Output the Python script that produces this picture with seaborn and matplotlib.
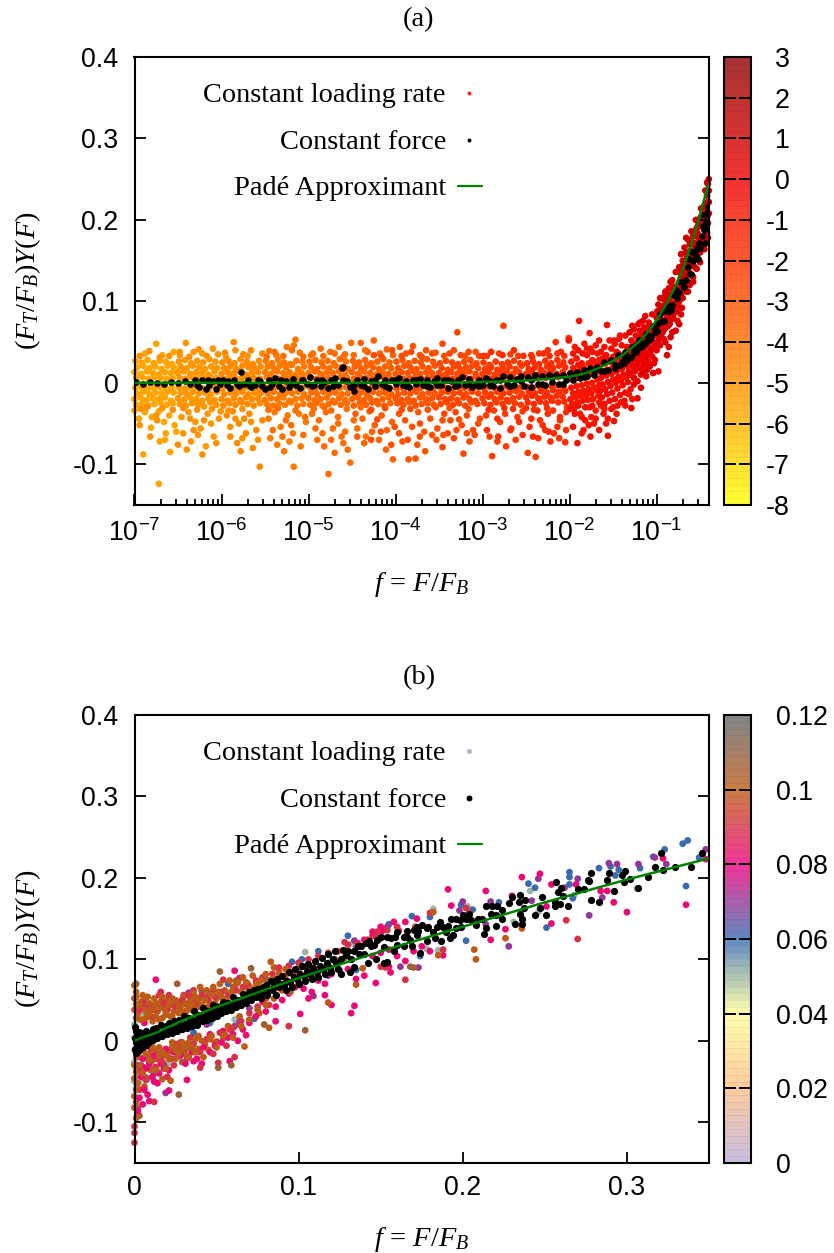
import numpy as np
import matplotlib
matplotlib.use("Agg")
import matplotlib.pyplot as plt
from matplotlib.cm import ScalarMappable
from matplotlib.colors import LinearSegmentedColormap, Normalize
from matplotlib.ticker import LogLocator, NullFormatter
import seaborn as sns

# ---------- Pade curve (f, y) ----------
curve_f = [1e-7,1e-5,1e-4,5e-4,1e-3,2e-3,3e-3,5e-3,7e-3,0.01,0.015,0.02,0.03,0.04,0.05,0.065,0.08,0.1,0.13,0.16,0.2,0.25,0.3,0.35,0.4]
curve_y = [0,0,0.0001,0.0004,0.001,0.0018,0.0027,0.0044,0.0058,0.0075,0.0115,0.0165,0.0255,0.0335,0.0415,0.052,0.063,0.077,0.097,0.116,0.14,0.17,0.198,0.224,0.245]

# ---------- panel (a): [log10(f)*100, y*1000] pairs, one list per colour level ----------
a_z = [-5.6,-5.2,-4.8,-4.3,-3.9,-3.5,-3.1,-2.7,-2.3,-1.8,-0.9,-0.4,0.1,0.6,1.0,-5.0,-3.9,-2.9,-1.9,-0.7,0.3,0.7,1.0]
a_01 = [-699,27,-692,25,-685,28,-678,24,-671,27,-664,26,-657,23,-697,19,-690,21,-683,18,-676,20,-669,17,-662,21,-655,19,-700,13,-693,11,-686,14,-679,12,-672,10,-665,13,-658,12,-651,14,-698,6,-691,7,-684,5,-677,7,-670,6,-663,5,-656,6,-699,-6,-692,-5,-685,-7,-678,-6,-671,-5,-664,-7,-657,-6,-697,-13,-690,-11,-683,-14,-676,-12,-669,-13,-662,-11,-655,-12,-700,-20,-693,-18,-686,-21,-679,-19,-672,-20,-665,-18,-658,-22,-698,-27,-691,-25,-684,-28,-677,-26,-670,-24,-663,-27,-656,-25,-675,48,-688,36,-668,34,-655,38,-700,-34,-695,-44,-688,-36,-680,-42,-672,-35,-666,-48,-681,-55,-690,-88,-672,-124,-660,-40,-654,-52,-664,-62,-671,-72,-659,-85,-665,-70,-652,-60]
a_02 = [-649,26,-642,28,-635,24,-628,27,-621,25,-614,29,-607,26,-647,20,-640,18,-633,21,-626,19,-619,17,-612,20,-605,18,-650,12,-643,14,-636,11,-629,13,-622,12,-615,10,-608,14,-648,6,-641,5,-634,7,-627,6,-620,5,-613,7,-606,6,-649,-5,-642,-7,-635,-6,-628,-5,-621,-7,-614,-6,-607,-5,-647,-12,-640,-14,-633,-11,-626,-13,-619,-12,-612,-14,-605,-11,-650,-19,-643,-21,-636,-18,-629,-20,-622,-22,-615,-19,-608,-21,-648,-26,-641,-28,-634,-25,-627,-27,-620,-29,-613,-24,-606,-27,-641,49,-632,38,-622,36,-610,42,-648,34,-646,-42,-638,-36,-630,-48,-624,-56,-616,-38,-609,-66,-644,-62,-635,-72,-627,-64,-618,-78,-612,-50,-603,-44,-640,-82]
a_03 = [-599,25,-592,27,-585,24,-578,29,-571,26,-564,23,-557,27,-597,18,-590,20,-583,17,-576,21,-569,19,-562,18,-555,20,-600,11,-593,13,-586,12,-579,14,-572,10,-565,12,-558,13,-598,5,-591,7,-584,6,-577,5,-570,7,-563,6,-556,5,-599,-7,-592,-5,-585,-6,-578,-7,-571,-5,-564,-6,-557,-7,-597,-14,-590,-12,-583,-13,-576,-11,-569,-14,-562,-12,-555,-13,-600,-20,-593,-22,-586,-19,-579,-21,-572,-18,-565,-20,-558,-19,-598,-28,-591,-25,-584,-27,-577,-24,-570,-26,-563,-28,-556,-25,-586,50,-596,37,-575,35,-566,40,-553,36,-594,-40,-587,-35,-580,-50,-574,-44,-568,-38,-560,-58,-590,-66,-582,-74,-572,-62,-564,-80,-556,-103,-553,-46,-578,-84]
a_04 = [-549,27,-542,24,-535,28,-528,25,-521,23,-514,27,-507,26,-547,20,-540,18,-533,21,-526,19,-519,22,-512,17,-505,20,-550,13,-543,11,-536,14,-529,12,-522,13,-515,10,-508,12,-548,7,-541,6,-534,5,-527,7,-520,6,-513,5,-506,7,-549,-6,-542,-7,-535,-5,-528,-6,-521,-7,-514,-5,-507,-6,-547,-13,-540,-11,-533,-14,-526,-12,-519,-13,-512,-11,-505,-14,-550,-21,-543,-19,-536,-20,-529,-18,-522,-22,-515,-20,-508,-19,-548,-26,-541,-28,-534,-25,-527,-27,-520,-24,-513,-28,-506,-26,-545,39,-537,34,-525,44,-515,53,-517,46,-510,37,-546,-44,-539,-36,-532,-54,-524,-40,-518,-62,-511,-38,-503,-48,-544,-68,-536,-76,-528,-84,-517,-103,-522,-72,-509,-78]
a_05 = [-499,26,-492,28,-485,25,-478,27,-471,24,-464,29,-457,26,-497,19,-490,17,-483,20,-476,18,-469,21,-462,19,-455,17,-500,12,-493,14,-486,11,-479,13,-472,12,-465,14,-458,10,-498,6,-491,5,-484,7,-477,6,-470,5,-463,7,-456,6,-499,-5,-492,-7,-485,-6,-478,-5,-471,-7,-464,-6,-457,-5,-497,-12,-490,-14,-483,-11,-476,-13,-469,-12,-462,-14,-455,-13,-500,-19,-493,-21,-486,-20,-479,-18,-472,-22,-465,-19,-458,-21,-498,-27,-491,-25,-484,-28,-477,-26,-470,-24,-463,-27,-456,-25,-451,49,-495,36,-486,42,-475,38,-465,44,-458,35,-496,-38,-488,-46,-480,-36,-472,-56,-466,-42,-458,-60,-452,-98,-477,-112,-490,-70,-482,-78,-470,-86,-462,-66,-455,-82]
a_06 = [-449,27,-442,25,-435,28,-428,24,-421,26,-414,29,-407,25,-447,20,-440,18,-433,21,-426,19,-419,17,-412,20,-405,18,-450,13,-443,11,-436,14,-429,12,-422,10,-415,13,-408,11,-448,5,-441,7,-434,6,-427,5,-420,7,-413,6,-406,5,-449,-6,-442,-5,-435,-7,-428,-6,-421,-5,-414,-7,-407,-6,-447,-13,-440,-12,-433,-14,-426,-11,-419,-13,-412,-12,-405,-14,-450,-20,-443,-18,-436,-21,-429,-19,-422,-22,-415,-20,-408,-18,-448,-28,-441,-25,-434,-27,-427,-24,-420,-26,-413,-28,-406,-25,-440,49,-425,52,-432,38,-418,36,-410,41,-403,34,-446,-38,-438,-44,-430,-35,-424,-52,-416,-40,-410,-58,-403,-94,-444,-66,-436,-74,-427,-60,-419,-70,-411,-82,-404,-48]
a_07 = [-399,26,-392,28,-385,24,-378,27,-371,25,-364,29,-357,26,-397,18,-390,21,-383,19,-376,17,-369,20,-362,18,-355,21,-400,11,-393,13,-386,12,-379,14,-372,11,-365,13,-358,12,-398,7,-391,5,-384,6,-377,7,-370,5,-363,6,-356,7,-399,-7,-392,-6,-385,-5,-378,-7,-371,-6,-364,-5,-357,-7,-397,-14,-390,-12,-383,-13,-376,-11,-369,-14,-362,-12,-355,-13,-400,-19,-393,-21,-386,-20,-379,-22,-372,-18,-365,-20,-358,-19,-398,-25,-391,-27,-384,-24,-377,-28,-370,-26,-363,-25,-356,-27,-395,44,-380,45,-388,36,-372,34,-365,40,-354,37,-396,-38,-389,-46,-385,-94,-377,-93,-381,-54,-374,-36,-367,-60,-360,-44,-353,-70,-392,-72,-375,-76,-366,-84,-358,-64]
a_08 = [-349,24,-342,27,-335,25,-328,23,-321,26,-314,28,-307,24,-347,18,-340,16,-333,20,-326,17,-319,19,-312,21,-305,18,-350,12,-343,10,-336,13,-329,11,-322,12,-315,14,-308,11,-348,6,-341,7,-334,5,-327,6,-320,7,-313,5,-306,6,-349,-5,-342,-6,-335,-7,-328,-5,-321,-6,-314,-7,-307,-5,-347,-12,-340,-11,-333,-13,-326,-12,-319,-14,-312,-11,-305,-13,-350,-18,-343,-20,-336,-19,-329,-21,-322,-18,-315,-20,-308,-22,-348,-26,-341,-24,-334,-27,-327,-25,-320,-28,-313,-24,-306,-26,-346,48,-329,62,-338,36,-325,34,-316,38,-304,33,-346,-79,-322,-87,-344,-38,-337,-46,-331,-36,-324,-52,-318,-40,-311,-58,-303,-44,-340,-62,-333,-68,-315,-72,-309,-64]
a_09 = [-299,25,-292,22,-285,26,-278,23,-271,25,-264,27,-257,24,-297,17,-290,19,-283,16,-276,18,-269,20,-262,17,-255,21,-300,11,-293,13,-286,10,-279,12,-272,14,-265,11,-258,13,-298,6,-291,5,-284,7,-277,6,-270,7,-263,5,-256,7,-299,-6,-292,-5,-285,-7,-278,-6,-271,-5,-264,-7,-257,-6,-297,-12,-290,-14,-283,-11,-276,-13,-269,-12,-262,-10,-255,-13,-300,-19,-293,-17,-286,-20,-279,-18,-272,-21,-265,-19,-258,-17,-298,-25,-291,-27,-284,-24,-277,-26,-270,-23,-263,-25,-256,-27,-276,70,-295,33,-281,36,-268,35,-259,33,-289,-90,-296,-40,-287,-34,-280,-48,-274,-38,-267,-56,-260,-42,-254,-35,-292,-66,-283,-72,-273,-78,-262,-70,-248,-86,-239,-91]
a_10 = [-249,24,-242,26,-235,23,-228,27,-221,24,-214,28,-207,25,-247,17,-240,19,-233,16,-226,20,-219,18,-212,21,-205,19,-250,11,-243,13,-236,10,-229,12,-222,14,-215,11,-208,13,-248,6,-241,5,-234,7,-227,6,-220,8,-213,7,-206,9,-249,-5,-242,-6,-235,-4,-228,-5,-221,-4,-214,-3,-207,-5,-247,-11,-240,-13,-233,-10,-226,-12,-219,-9,-212,-11,-205,-10,-250,-18,-243,-16,-236,-19,-229,-17,-222,-18,-215,-16,-208,-17,-248,-24,-241,-26,-234,-23,-227,-25,-220,-22,-213,-24,-206,-23,-216,50,-201,55,-244,34,-230,36,-223,33,-210,38,-244,-44,-237,-34,-231,-52,-225,-38,-218,-62,-211,-42,-204,-36,-242,-66,-228,-58,-222,-72,-205,-73,-214,-54]
a_11 = [-198,26,-192,30,-186,24,-180,34,-174,28,-168,36,-196,18,-190,22,-184,19,-178,24,-172,26,-166,28,-199,12,-193,14,-187,16,-181,15,-175,19,-169,22,-197,4,-191,6,-185,9,-179,8,-173,11,-167,14,-198,-6,-192,-4,-186,-3,-180,-1,-174,0,-168,4,-196,-13,-190,-11,-184,-10,-178,-8,-172,-6,-166,-3,-199,-20,-193,-18,-187,-16,-181,-15,-175,-13,-169,-9,-197,-26,-191,-24,-185,-22,-179,-21,-173,-20,-167,-16,-189,76,-177,61,-201,52,-194,44,-183,48,-176,42,-188,-38,-191,-74,-182,-46,-195,-32,-177,-30,-170,-34,-172,-50,-164,-28,-184,-58,-175,-42]
a_12 = [-164,38,-158,34,-152,42,-146,38,-140,46,-134,44,-162,30,-156,28,-150,32,-144,36,-138,34,-132,40,-165,22,-159,24,-153,26,-147,28,-141,30,-135,34,-163,14,-157,16,-151,18,-145,22,-139,24,-133,28,-164,6,-158,9,-152,11,-146,14,-140,17,-134,21,-162,-2,-156,1,-150,4,-144,7,-138,10,-132,14,-165,-10,-159,-8,-153,-4,-147,0,-141,3,-135,7,-163,-18,-157,-14,-151,-12,-145,-7,-139,-3,-133,1,-157,71,-149,52,-143,54,-136,58,-160,-26,-154,-22,-148,-20,-142,-15,-136,-12,-156,-65,-149,-47,-161,-38,-152,-32,-145,-28,-137,-22,-130,-8]
a_13 = [-129,52,-124,58,-119,64,-114,68,-109,74,-127,46,-122,50,-117,56,-112,60,-107,66,-130,40,-125,44,-120,48,-115,54,-110,58,-105,62,-128,34,-123,38,-118,42,-113,46,-108,52,-103,58,-129,26,-124,30,-119,34,-114,38,-109,44,-104,50,-127,20,-122,24,-117,28,-112,32,-107,38,-102,44,-125,14,-120,18,-115,22,-110,26,-105,32,-100,40,-129,-31,-122,-19,-128,70,-119,74,-113,82,-105,84,-126,6,-118,10,-111,16,-103,24,-98,14]
a_14 = [-99,88,-95,94,-91,102,-87,108,-83,116,-97,82,-93,88,-89,94,-85,102,-81,110,-99,74,-95,78,-91,86,-87,92,-83,98,-79,106,-97,66,-93,72,-89,78,-85,84,-81,92,-77,100,-95,60,-91,66,-87,70,-83,78,-79,86,-75,94,-96,104,-90,112,-84,124,-78,136,-98,52,-92,54,-86,44,-88,34,-82,62,-76,76,-72,84]
a_15 = [-74,142,-70,150,-66,160,-62,170,-58,180,-54,190,-50,202,-46,216,-42,230,-40,250,-72,130,-68,138,-64,148,-60,158,-56,168,-52,178,-48,192,-44,206,-41,222,-74,118,-70,126,-66,134,-62,144,-58,154,-54,164,-50,176,-46,190,-42,204,-72,108,-68,116,-64,124,-60,132,-56,142,-52,152,-48,164,-44,176,-41,196,-66,178,-60,186,-55,200,-49,214,-44,236,-41,244,-64,112,-58,124,-50,148,-45,164,-41,178]
a_e1 = [-694,33,-683,39,-671,31,-660,33,-648,38,-637,32,-626,41,-617,33,-604,35,-595,32,-584,40,-570,33,-693,-32,-686,-30,-675,-40,-668,-31,-656,-33,-644,-31,-636,-44,-628,-33,-620,-46,-611,-32,-601,-35,-592,-34,-584,-44,-576,-32,-566,-48,-694,-52,-682,-66,-674,-46,-650,-76,-632,-58,-622,-88,-606,-74,-590,-54,-576,-68,-558,-70]
a_e2 = [-548,32,-539,38,-529,33,-519,40,-506,32,-497,34,-483,33,-470,36,-460,32,-448,34,-435,40,-546,-33,-535,-31,-526,-46,-515,-34,-504,-42,-494,-32,-482,-30,-474,-34,-466,-50,-456,-32,-448,-46,-440,-30,-541,-58,-530,-66,-520,-52,-506,-64,-492,-56,-484,-62,-474,-70,-460,-74,-444,-56,-434,-66]
a_e3 = [-425,34,-416,32,-404,40,-393,33,-382,38,-370,32,-358,36,-344,33,-333,40,-320,33,-308,38,-428,-33,-421,-45,-412,-31,-401,-54,-393,-33,-383,-32,-372,-50,-363,-33,-354,-30,-346,-46,-338,-31,-327,-45,-316,-32,-428,-70,-417,-60,-405,-76,-396,-62,-386,-70,-372,-66,-352,-56,-345,-64,-330,-58,-318,-62,-305,-50]
a_e4 = [-299,33,-290,38,-277,34,-264,40,-253,33,-243,31,-235,36,-225,40,-214,36,-206,33,-293,-33,-283,-44,-275,-31,-265,-32,-258,-48,-250,-31,-241,-33,-234,-46,-226,-31,-219,-34,-211,-46,-203,-30,-295,-58,-282,-66,-268,-58,-254,-64,-246,-54,-236,-68,-224,-60,-212,-68,-204,-58]
a_e5 = [-199,-32,-194,-38,-190,-28,-186,-42,-182,-30,-178,-52,-174,-28,-170,-44,-166,-24,-160,-32,-156,-44,-150,-30,-146,-38,-141,-24,-136,-28,-132,-14,-128,-20,-196,36,-190,40,-185,36,-180,42,-174,38,-170,46,-166,52,-160,44,-154,52,-148,48,-142,58,-196,-54,-186,-62,-176,-66,-166,-58,-158,-50]
a_e6 = [-131,62,-126,66,-121,72,-116,76,-131,10,-126,-2,-122,2,-118,-6,-116,14,-112,8,-108,20,-104,12,-102,28,-129,44,-124,38,-119,40,-114,46,-109,36,-104,42,-100,48,-120,56,-115,62,-110,68,-106,54,-101,70]
a_e7 = [-100,80,-96,86,-92,94,-88,100,-84,108,-80,118,-98,96,-94,104,-90,108,-86,116,-82,126,-97,58,-93,62,-89,68,-85,72,-81,80,-77,88,-74,100,-91,76,-87,82,-83,88,-79,96,-75,106,-96,46,-90,50,-84,56,-78,64,-74,72,-71,92]
a_e8 = [-72,158,-68,166,-64,176,-60,172,-56,184,-52,194,-48,206,-44,220,-42,246,-40,236,-71,120,-67,128,-63,136,-59,146,-55,156,-51,166,-47,176,-43,192,-40,208,-70,104,-66,112,-62,120,-58,130,-54,140,-50,160,-46,170,-42,184,-40,222,-73,136,-69,146,-65,154,-61,162,-57,172,-53,184,-49,196,-45,210,-43,218]
a_black = [-698,1,-690,-1,-682,1,-674,0,-666,-1,-658,1,-650,0,-642,2,-636,-2,-630,4,-626,-5,-622,3,-618,-8,-614,-3,-610,2,-606,-7,-602,-2,-598,4,-594,-3,-590,-6,-586,3,-582,-2,-578,13,-574,-1,-570,3,-566,-5,-562,-3,-558,4,-554,-4,-550,-7,-546,3,-542,-1,-538,6,-534,-4,-530,-8,-526,2,-522,-5,-518,5,-514,-3,-510,-6,-506,3,-502,-2,-498,7,-494,-3,-490,4,-486,-4,-482,1,-478,-6,-474,3,-470,6,-466,-3,-462,18,-460,20,-456,2,-452,-5,-448,-10,-444,4,-440,-3,-436,5,-432,-8,-428,2,-424,-4,-420,8,-416,-1,-412,4,-408,-6,-404,3,-400,-2,-396,6,-392,-3,-388,2,-384,-5,-380,4,-376,-2,-372,5,-368,-3,-364,3,-360,-5,-356,2,-352,6,-348,-3,-344,4,-340,-6,-336,2,-332,-4,-328,3,-324,7,-320,-3,-316,5,-312,-5,-308,-2,-304,4,-300,-3,-296,6,-292,2,-288,-4,-284,3,-280,-6,-276,8,-272,-2,-268,7,-264,-3,-260,5,-256,8,-252,-4,-248,7,-244,-5,-240,9,-236,-2,-232,8,-228,-3,-224,10,-220,1,-216,9,-212,-1,-208,10,-204,3,-200,12,-196,4,-192,13,-188,6,-184,16,-180,8,-176,18,-172,10,-168,20,-164,14,-160,25,-156,16,-152,28,-148,22,-144,34,-140,26,-136,38,-132,32,-128,44,-124,38,-120,52,-116,46,-112,60,-108,54,-104,70,-100,64,-96,84,-92,76,-88,94,-84,90,-80,108,-76,104,-72,124,-68,118,-64,142,-60,134,-56,160,-52,152,-48,180,-44,172,-42,208,-41,190,-46,206]
a_black2 = [-628,-3,-616,3,-604,4,-592,2,-580,-4,-568,-3,-556,2,-544,-5,-532,4,-520,-2,-508,4,-496,-4,-484,3,-472,-4,-460,3,-448,-3,-436,-4,-424,4,-412,-4,-400,4,-388,-4,-376,3,-364,-4,-352,-3,-340,4,-328,-3,-316,-2,-304,-4,-292,-3,-280,4,-268,-4,-256,2,-244,3,-232,-1,-220,7,-208,-2,-196,9,-184,7,-172,14,-160,15,-148,18,-136,30,-124,46,-112,50,-100,72,-94,76,-90,88,-86,88,-82,96,-78,114,-74,112,-70,124,-66,126,-62,134,-58,150,-54,166,-50,166,-46,188,-43,198,-41,216,-63,152,-59,160,-55,156,-51,172,-47,192,-98,74,-102,62,-106,58,-110,52,-114,48,-118,44,-122,42,-126,38,-130,32,-134,28,-138,24,-142,22]

# ---------- panel (b): [f*1000, y*1000] pairs, one list per colour level ----------
b_z = [0.05,0.06,0.07,0.082,0.09,0.108,0.1,0.082,0.09,0.1]
b_grey = [0,20,1,12,0,4,1,-4,0,-12,2,-18,0,-26,1,-34,2,-42,0,-50,1,-58,3,-48,5,32,3,26,7,-22,10,-30,14,-36,20,-28,26,-20,38,-12,48,28,241,184,306,187,182,162,185,111,178,113,203,165,231,146,268,179,133,120,246,158,104,109,61,26,120,98,88,78]
b_blue = [4,-30,8,-18,12,-40,16,-16,22,-22,29,-2,36,10,46,22,57,70,73,27,96,97,102,100,88,68,78,60,337,246,334,242,323,235,316,226,283,212,336,190,265,207,265,201,265,192,295,210,293,203,240,193,244,188,251,139,267,175,169,153,155,143,130,129,202,123,174,104,308,212,290,214,199,167,206,161,180,152,344,225,222,170,135,87,112,110,124,88]
b_purple = [33,59,61,18,64,23,109,55,90,64,96,82,70,40,44,20,26,-6,18,-30,19,-64,154,140,134,123,135,114,228,116,277,154,173,90,162,91,200,171,198,160,289,218,294,217,307,217,324,217,317,225,348,235,270,199,246,199,285,176,217,171,214,143,262,188,242,172,118,80,100,88]
b_pink = [13,75,61,86,64,77,36,40,28,46,20,38,10,30,6,22,12,-50,15,-40,8,-66,9,-74,5,-32,18,-34,22,-22,30,-12,36,-25,41,-28,58,-25,63,0,68,7,54,12,46,8,101,33,86,24,120,44,116,56,92,72,106,52,78,48,70,58,52,42,44,54,336,167,300,158,292,170,288,184,284,184,269,192,247,205,236,201,254,192,251,165,254,144,226,137,217,124,214,184,191,186,193,166,322,224,348,223,188,105,156,84,147,71,134,43,132,34,155,91,161,135,151,135,230,178,10,-10,16,-20,25,-4,32,-48,21,-61]
b_red = [16,60,54,75,40,-33,51,-27,61,-20,50,-1,12,-75,3,-60,0,-105,0,-113,0,-125,6,-44,14,-22,26,-8,34,4,45,30,58,14,76,62,94,18,82,44,68,66,110,80,263,148,270,125,165,75,180,157,188,112,150,91,153,90,145,129,147,129,128,121,202,163,204,157,24,50,30,56,36,62,14,44,8,36,48,62]
b_brown = [1,70,26,70,52,85,71,89,41,61,59,-30,51,-33,29,-26,27,-66,104,13,79,20,168,91,170,90,6,52,16,48,32,44,46,58,62,74,80,76,2,-82,3,-92,8,-46,20,-16,34,-10,22,30,38,52]
b_orange = [0,68,1,60,0,52,1,45,0,38,2,34,1,28,0,-30,1,-38,0,-46,2,-52,1,-60,0,-68,1,-75,0,-82,2,-88,1,-95,4,48,6,40,8,54,10,44,12,52,14,36,16,46,18,40,20,50,22,44,24,36,26,48,28,42,30,54,32,38,34,50,36,58,38,48,40,66,42,54,44,62,46,46,48,66,50,52,52,70,55,62,58,74,60,66,63,72,66,78,69,70,72,80,75,68,83,97,85,90,88,84,92,80,98,86,105,92,4,26,7,28,9,32,11,24,13,30,15,26,17,28,19,32,23,30,27,34,31,34,35,38,39,42,3,-20,5,-12,7,-6,9,-16,11,-24,13,-12,15,-8,17,-47,19,-18,21,-12,23,-8,25,-22,27,-4,29,-10,31,-16,33,-2,35,-6,37,2,39,-10,41,0,43,-4,45,-11,47,6,49,-2,54,3,67,-7,82,16,57,18,64,30,76,34,135,69,208,100,207,112,185,105,226,126,236,138,139,89,171,140,182,158,22,-49,109,90,118,47,6,-56,10,-36]
b_pink2 = [2,-30,5,-22,4,-44,7,-34,9,-28,11,-44,14,-52,6,-60,3,-70,5,-78,2,-86,12,-18,16,-28,19,-10,21,-36,24,-14,28,-18,31,-28,35,-14,38,-22,42,-8,46,-14,49,-6,53,-2,57,4,60,8,66,14,70,22,74,30,80,36,86,42,90,50,94,58,98,66,103,64,108,60,112,74,116,70,120,82,125,86,130,88,135,76,140,80,145,104,150,108,155,112,160,104,165,98,170,110,175,116,180,110,140,124,145,134,150,140,158,146,165,146,172,150]
b_red2 = [3,38,6,46,9,42,12,38,15,56,18,46,21,56,25,42,29,50,33,56,37,46,41,56,45,50,49,54,53,60,57,56,62,62,66,66,70,66,74,74,78,78,84,82,88,90,94,92,100,96,106,100,112,104,118,108,124,110,130,118,136,120,142,124,148,134,154,136,160,140,4,-36,7,-48,10,-22,13,-32,17,-26,20,-44,24,-30,28,-2,32,-22,36,-4,40,-14,44,2,48,-16,52,10,56,-6,60,16,65,24,70,34,75,42,80,52,85,62]
b_orange2 = [1,54,3,44,5,56,7,36,9,46,11,38,13,46,15,40,17,54,19,36,21,44,23,52,25,50,27,42,29,36,31,46,33,42,35,44,37,54,39,50,41,44,43,50,45,42,47,56,49,46,51,60,53,54,56,50,59,60,62,70,65,60,68,72,71,64,74,70,77,74,80,82,84,76,88,78,92,88,96,84,100,90,1,-20,3,-30,5,-40,7,-16,9,-24,11,-8,13,-36,15,-18,17,-14,19,-34,21,-22,23,-2,25,-12,27,-16,29,-2,31,-6,33,-20,35,-8,37,-14,39,6,42,-20,46,2,50,-8,55,8,60,4,65,18,70,26,75,38,80,44,85,52,90,62,95,60,100,72,105,76,110,84,116,90,122,100,128,102]
b_black = [0,17,1,12,2,7,0,4,1,-1,2,-6,0,-10,1,-15,3,11,3,-11,4,3,4,-4,5,9,5,-8,6,2,6,-3,7,12,7,-5,8,4,9,10,9,-2,10,6,11,14,11,1,12,7,13,16,14,4,15,10,16,20,17,6,18,13,19,18,20,8,21,22,22,14,23,10,24,24,25,16,26,12,27,26,28,19,29,14,30,30,31,21,32,16,33,28,34,24,35,18,36,36,37,26,38,20,39,32,40,28,41,24,42,40,43,30,44,26,45,36,46,32,47,28,48,44,49,36,50,30,51,42,52,38,53,34,54,48,55,40,56,36,57,46,58,42,59,38,60,54,61,46,62,42,63,50,64,48,65,44,66,58,67,50,68,46,69,54,70,60,71,50,72,56,73,62,74,54,75,64,76,58,77,52,78,66,79,60,80,68,81,56,82,64,83,74,84,62,85,68,86,56,87,76,88,66,89,70,90,80,91,68,92,62,93,74,94,84,95,72,96,66,97,78,98,88,99,76,100,70,101,82,102,92,103,80,104,74,105,86,106,94,107,82,108,76,109,90,110,98,111,84,112,78,113,92,114,102,115,88,116,82,117,96,118,106,119,90,120,84,121,100,122,110,123,96,124,88,346,230,339,213,329,213,322,210,317,214,321,231,313,201,307,187,302,199,298,195,299,208,297,203,292,184,289,206,288,197,278,206,277,196,276,197,278,173,283,170,274,186,270,186,257,195,260,187,258,183,261,178,256,171,256,165,259,168,264,165,251,155,244,154,247,163,248,176,235,179,234,171,238,173,237,163,235,156,236,150,236,144,232,144,230,176,228,169,224,161,221,165,218,165,214,165,217,156,220,154,224,149,220,141,214,139,213,131,209,150,205,148,202,150,198,148,199,140,193,150,191,141,188,140,184,140,179,140,173,135,170,136,166,135,159,128,156,126,150,127,144,116,140,107,137,107,129,105,142,96,131,84,126,82,134,91,174,108,169,116,164,128,160,118,154,97,152,95,147,101,183,126,187,122,192,126,194,130,178,122,172,130,164,116,158,110,152,115,146,118,127,112,132,100,136,116,141,120,196,138,204,156,208,142,212,150,168,124,175,142,182,134,126,100,130,110,134,110,138,116,143,122,148,124,154,128,160,134,166,128,172,140,178,138,186,146,190,134,196,150,200,154]

# ---------- axis text ----------
a_xticks = [1e-7,1e-6,1e-5,1e-4,1e-3,1e-2,1e-1]
a_xlabels = [r'$\mathdefault{10^{-7}}$',r'$\mathdefault{10^{-6}}$',r'$\mathdefault{10^{-5}}$',r'$\mathdefault{10^{-4}}$',r'$\mathdefault{10^{-3}}$',r'$\mathdefault{10^{-2}}$',r'$\mathdefault{10^{-1}}$']
b_xticks = [0,0.1,0.2,0.3]
b_xlabels = ['0','0.1','0.2','0.3']
y_ticks = [-0.1,0,0.1,0.2,0.3,0.4]
y_labels = ['-0.1','0','0.1','0.2','0.3','0.4']
cb_a_ticks = [-8,-7,-6,-5,-4,-3,-2,-1,0,1,2,3]
cb_a_labels = ['-8','-7','-6','-5','-4','-3','-2','-1','0','1','2','3']
cb_b_ticks = [0,0.02,0.04,0.06,0.08,0.1,0.12]
cb_b_labels = ['0','0.02','0.04','0.06','0.08','0.1','0.12']
legend_names = ['Constant loading rate','Constant force','Padé Approximant']

# ---------- style ----------
W, H = 834, 1253
sns.set_theme(style='ticks')
plt.rcParams['font.family'] = ['Liberation Sans', 'DejaVu Sans']
plt.rcParams.update({'mathtext.fontset':'custom','mathtext.rm':'Liberation Serif',
                     'mathtext.it':'Liberation Serif:italic','mathtext.default':'it',
                     'axes.unicode_minus':False,'axes.linewidth':1.5,'text.color':'black',
                     'axes.labelcolor':'black','xtick.color':'black','ytick.color':'black',
                     'axes.axisbelow':False})
SERIF = 'Liberation Serif'
GREEN = '#008000'
cmap_a = LinearSegmentedColormap.from_list('a', [(0,'#FFFF00'),(2/11,'#FFB000'),(4/11,'#FF7000'),(6/11,'#FF3000'),(8/11,'#F00000'),(9/11,'#D00000'),(1,'#900000')])
cmap_b = LinearSegmentedColormap.from_list('b', ['#BEAED4','#FDC086','#FFFF99','#386CB0','#F0027F','#BF5B17','#666666'])
norm_a, norm_b = Normalize(-8, 3), Normalize(0, 0.12)

def box(l, t, r, b):
    return [l/W, 1-b/H, (r-l)/W, (b-t)/H]

def frame(ax, ylab_title, xpad, xlab_y):
    ax.set_ylim(-0.15, 0.4)
    ax.set_yticks(y_ticks, y_labels)
    ax.tick_params(axis='both', which='major', direction='in', length=8, width=1.3, labelsize=19.3, colors='black')
    ax.tick_params(axis='y', right=True, pad=11.5)
    ax.tick_params(axis='x', top=False, pad=xpad)
    ax.set_title(ylab_title, family=SERIF, fontsize=20.4, pad=22.5, x=0.495, color='black')
    ax.set_xlabel(r'$f\,=\,F/F_B$', fontsize=20.4)
    ax.set_ylabel(r'$(F_T/F_B)Y(F)$', fontsize=20.4)
    ax.xaxis.set_label_coords(0.5, xlab_y)
    ax.yaxis.set_label_coords(-0.159, 0.5)
    for s in ax.spines.values():
        s.set_visible(True); s.set_color('black'); s.set_linewidth(1.5)

def cbar(fig, pos, cmap, norm, ticks, labels, pad, ha):
    cax = fig.add_axes(pos)
    sm = ScalarMappable(norm=norm, cmap=cmap.resampled(66))
    cb = fig.colorbar(sm, cax=cax, ticks=ticks, alpha=0.8)
    cb.ax.set_yticklabels(labels, ha=ha)
    cb.ax.tick_params(direction='in', length=8.4, width=1.4, left=True, right=True, labelsize=19.3, pad=pad, color='black')
    cb.minorticks_off()
    cb.ax.set_axisbelow(False)
    cb.solids.set_zorder(0.5)
    cb.ax.hlines(np.linspace(norm.vmin, norm.vmax, 67), 0, 1, color='black', alpha=0.07, lw=0.5, zorder=0.6)
    cb.outline.set_edgecolor('black'); cb.outline.set_linewidth(1.5)
    return cb

def legend(ax, color, s):
    ys = [0.915, 0.81, 0.707]
    for name, yy in zip(legend_names, ys):
        ax.text(0.542, yy, name, transform=ax.transAxes, ha='right', va='center', family=SERIF, fontsize=20.4)
    ax.scatter([0.5825], [ys[0]+0.004], s=s[0], c=color, linewidths=0, transform=ax.transAxes)
    ax.scatter([0.5825], [ys[1]+0.004], s=s[1], c='black', linewidths=0, transform=ax.transAxes)
    ax.plot([0.5625, 0.605], [ys[2]+0.004]*2, color=GREEN, lw=1.6, transform=ax.transAxes)

fig = plt.figure(figsize=(W/100, H/100), dpi=100)
ax_a = fig.add_axes(box(134.5, 57, 709, 505))
ax_b = fig.add_axes(box(134.5, 715, 709, 1163))

# ----- panel a -----
groups_a = [a_01,a_02,a_03,a_04,a_05,a_06,a_07,a_08,a_09,a_10,a_11,a_12,a_13,a_14,a_15,a_e1,a_e2,a_e3,a_e4,a_e5,a_e6,a_e7,a_e8]
arrs = [np.array(g, float).reshape(-1, 2) for g in groups_a]
xa = 10.0 ** (np.concatenate([g[:, 0] for g in arrs]) / 100)
ya = np.concatenate([g[:, 1] for g in arrs]) / 1000
za = np.concatenate([np.full(len(g), z) for g, z in zip(arrs, a_z)])
sns.scatterplot(x=xa, y=ya, hue=za, palette=cmap_a, hue_norm=norm_a, s=23, linewidth=0, legend=False, ax=ax_a, clip_on=False, zorder=2)
bk = np.array(a_black + a_black2, float).reshape(-1, 2)
sns.scatterplot(x=10.0 ** (bk[:, 0] / 100), y=bk[:, 1] / 1000, color='black', s=23, linewidth=0, legend=False, ax=ax_a, zorder=3)
sns.lineplot(x=curve_f, y=curve_y, color=GREEN, lw=1.8, estimator=None, sort=False, ax=ax_a, zorder=4)
ax_a.set_xscale('log')
ax_a.set_xlim(1e-7, 0.4)
ax_a.set_xticks(a_xticks, a_xlabels)
ax_a.xaxis.set_minor_locator(LogLocator(base=10, subs=range(2, 10), numticks=20))
ax_a.xaxis.set_minor_formatter(NullFormatter())
ax_a.tick_params(axis='x', which='minor', direction='in', length=4, width=1.3, top=False, color='black')
frame(ax_a, '(a)', 10, -0.146)
legend(ax_a, '#FF2000', (8, 8))
cbar(fig, box(723.5, 57, 751, 505), cmap_a, norm_a, cb_a_ticks, cb_a_labels, 28, 'right')

# ----- panel b -----
groups_b = [b_grey,b_blue,b_purple,b_pink,b_red,b_brown,b_orange,b_pink2,b_red2,b_orange2]
arrs = [np.array(g, float).reshape(-1, 2) for g in groups_b]
xb = np.concatenate([g[:, 0] for g in arrs]) / 1000
yb = np.concatenate([g[:, 1] for g in arrs]) / 1000
zb = np.concatenate([np.full(len(g), z) for g, z in zip(arrs, b_z)])
sns.scatterplot(x=xb, y=yb, hue=zb, palette=cmap_b, hue_norm=norm_b, s=24, linewidth=0, legend=False, ax=ax_b, clip_on=False, zorder=2)
bk = np.array(b_black, float).reshape(-1, 2)
sns.scatterplot(x=bk[:, 0] / 1000, y=bk[:, 1] / 1000, color='black', s=27, linewidth=0, legend=False, ax=ax_b, clip_on=False, zorder=3)
sns.lineplot(x=curve_f, y=curve_y, color=GREEN, lw=1.8, estimator=None, sort=False, ax=ax_b, zorder=4)
ax_b.set_xlim(0, 0.35)
ax_b.set_xticks(b_xticks, b_xlabels)
frame(ax_b, '(b)', 8.5, -0.139)
legend(ax_b, '#BEAED4', (14, 18))
cbar(fig, box(723.5, 715, 751, 1163), cmap_b, norm_b, cb_b_ticks, cb_b_labels, 18, 'left')

fig.savefig('out.png', dpi=100)
